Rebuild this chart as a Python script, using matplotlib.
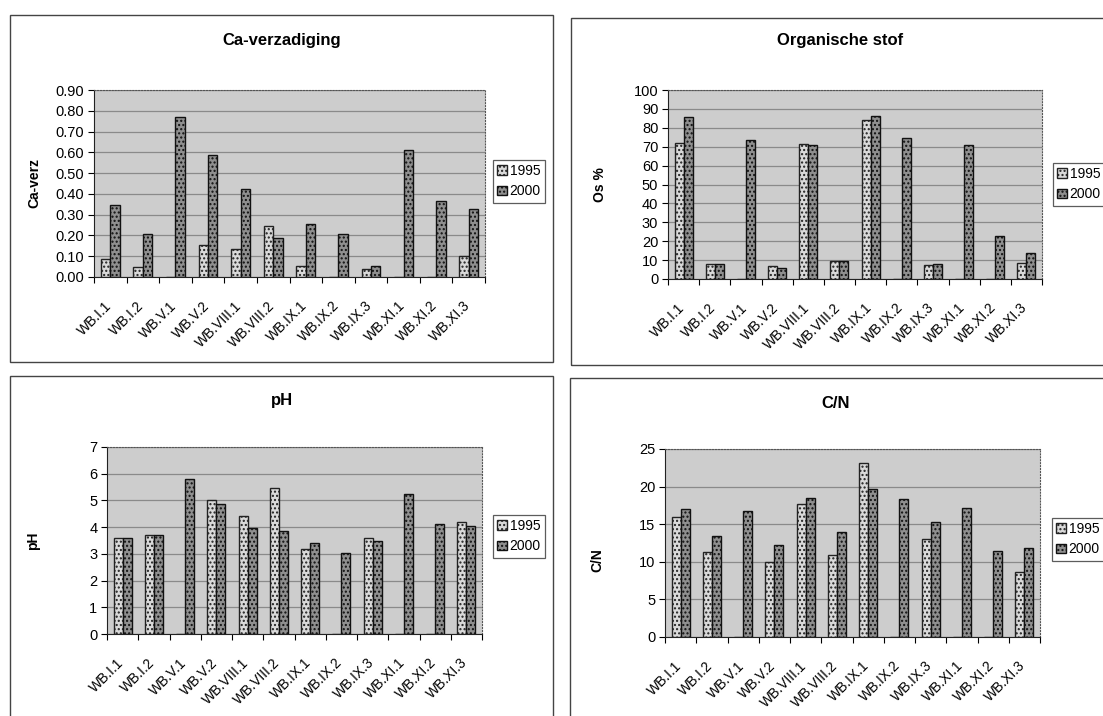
import matplotlib
matplotlib.use("Agg")
import matplotlib.pyplot as plt
import matplotlib.transforms as mtransforms
import numpy as np
from matplotlib.patches import Rectangle

plt.rcParams['font.family'] = ['Liberation Sans', 'DejaVu Sans']

sites = ["WB.I.1", "WB.I.2", "WB.V.1", "WB.V.2", "WB.VIII.1", "WB.VIII.2",
         "WB.IX.1", "WB.IX.2", "WB.IX.3", "WB.XI.1", "WB.XI.2", "WB.XI.3"]
years = ["1995", "2000"]

ca_1995 = [0.085, 0.05, 0.0, 0.155, 0.135, 0.245, 0.055, 0.0, 0.04, 0.0, 0.0, 0.10]
ca_2000 = [0.345, 0.205, 0.77, 0.585, 0.425, 0.19, 0.255, 0.205, 0.055, 0.61, 0.365, 0.325]

os_1995 = [72, 8, 0, 7, 71.5, 9.5, 84, 0, 7.5, 0, 0, 8.5]
os_2000 = [85.5, 8, 73.5, 6, 71, 9.5, 86, 74.5, 8, 71, 23, 13.5]

ph_1995 = [3.6, 3.7, 0, 5.0, 4.4, 5.45, 3.2, 0, 3.6, 0, 0, 4.2]
ph_2000 = [3.6, 3.7, 5.8, 4.85, 3.95, 3.85, 3.4, 3.05, 3.5, 5.25, 4.1, 4.05]

cn_1995 = [16, 11.3, 0, 10, 17.7, 10.9, 23.2, 0, 13, 0, 0, 8.6]
cn_2000 = [17, 13.4, 16.8, 12.2, 18.5, 13.9, 19.7, 18.3, 15.3, 17.1, 11.5, 11.8]

fig = plt.figure(figsize=(11.03, 7.16), dpi=100)
W, H = 1103, 716

def fx(x): return x / W
def fy(y): return 1 - y / H

# panel frames
for (x0, y0, x1, y1) in [(10, 15, 553, 362), (571, 18, 1110, 365),
                         (10, 376, 553, 730), (570, 378, 1110, 730)]:
    fig.patches.append(Rectangle((fx(x0), fy(y1)), fx(x1 - x0), fy(y0) - fy(y1),
                                 transform=fig.transFigure, fill=False,
                                 edgecolor='#444444', linewidth=1.0))

panels = [
    dict(box=(94, 90, 485, 277), title="Ca-verzadiging", tpos=(282, 40),
         ylabel="Ca-verz", ylpos=(34, 183), d1=ca_1995, d2=ca_2000,
         ymax=0.9, step=0.1, fmt="{:.2f}", leg=(493, 160)),
    dict(box=(668, 90, 1042, 279), title="Organische stof", tpos=(840, 40),
         ylabel="Os %", ylpos=(600, 185), d1=os_1995, d2=os_2000,
         ymax=100, step=10, fmt="{:.0f}", leg=(1053, 163)),
    dict(box=(107, 447, 482, 634), title="pH", tpos=(282, 400),
         ylabel="pH", ylpos=(33, 541), d1=ph_1995, d2=ph_2000,
         ymax=7, step=1, fmt="{:.0f}", leg=(493, 515)),
    dict(box=(665, 449, 1040, 637), title="C/N", tpos=(836, 403),
         ylabel="C/N", ylpos=(597, 560), d1=cn_1995, d2=cn_2000,
         ymax=25, step=5, fmt="{:.0f}", leg=(1052, 518)),
]

c1995 = '#d9d9d9'
c2000 = '#8f8f8f'
shift = mtransforms.ScaledTranslation(-6 / 100, -5 / 100, fig.dpi_scale_trans)

for p in panels:
    x0, y0, x1, y1 = p['box']
    ax = fig.add_axes([fx(x0), fy(y1), fx(x1 - x0), fy(y0) - fy(y1)])
    ax.set_facecolor('#cdcdcd')
    x = np.arange(len(sites))
    w = 0.29
    ax.bar(x - w / 2, p['d1'], w, color=c1995, edgecolor='#222222',
           linewidth=1.0, hatch='....', zorder=3)
    ax.bar(x + w / 2, p['d2'], w, color=c2000, edgecolor='#111111',
           linewidth=1.0, hatch='....', zorder=3)
    ax.set_xlim(-0.5, len(sites) - 0.5)
    ax.set_ylim(0, p['ymax'])
    ticks = np.arange(0, p['ymax'] + p['step'] / 2, p['step'])
    ax.set_yticks(ticks)
    ax.set_yticklabels([p['fmt'].format(t) for t in ticks], fontsize=10.5)
    ax.yaxis.grid(True, color='#8a8a8a', linewidth=0.9, zorder=0)
    ax.set_axisbelow(True)
    ax.set_xticks(np.arange(len(sites) + 1) - 0.5, minor=False)
    ax.set_xticklabels([])
    ax.set_xticks(x, minor=True)
    ax.set_xticklabels(sites, minor=True, rotation=45, ha='right',
                       rotation_mode='anchor', fontsize=10)
    ax.tick_params(axis='x', which='minor', length=0, pad=12)
    ax.tick_params(axis='x', which='major', length=4, direction='out')
    ax.tick_params(axis='y', length=4, direction='out', pad=3)
    for lab in ax.get_xticklabels(minor=True):
        lab.set_transform(lab.get_transform() + shift)
    for s in ['top', 'right']:
        ax.spines[s].set_linestyle(':')
        ax.spines[s].set_color('#555555')
    for s in ['left', 'bottom']:
        ax.spines[s].set_color('#222222')
    fig.text(fx(p['tpos'][0]), fy(p['tpos'][1]), p['title'], ha='center',
             va='center', fontsize=12, fontweight='bold')
    fig.text(fx(p['ylpos'][0]), fy(p['ylpos'][1]), p['ylabel'], ha='center',
             va='center', fontsize=10, fontweight='bold', rotation=90)
    lx0, ly0 = p['leg']
    leg = ax.legend(years, loc='upper left',
                    bbox_to_anchor=(fx(lx0), fy(ly0)),
                    bbox_transform=fig.transFigure, fontsize=10,
                    frameon=True, fancybox=False, edgecolor='#333333',
                    handlelength=0.7, handleheight=0.7, handletextpad=0.2,
                    borderpad=0.3, labelspacing=0.45, borderaxespad=0)
    leg.get_frame().set_linewidth(0.9)

fig.savefig("out.png", dpi=100, facecolor='white')
